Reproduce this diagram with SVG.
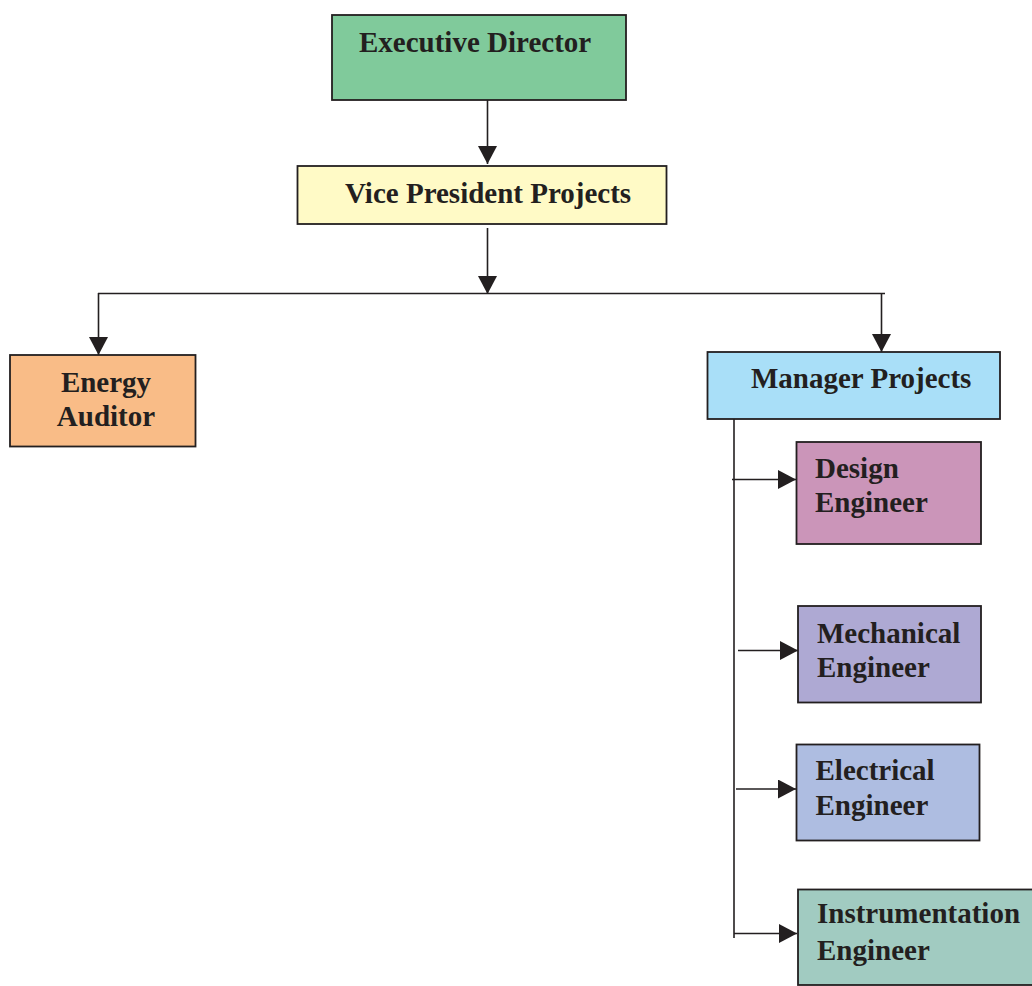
<svg xmlns="http://www.w3.org/2000/svg" width="1032" height="986" viewBox="0 0 1032 986">
<style>
.box{stroke:#231f20;stroke-width:1.8}
.lbl{font-family:"Liberation Serif","Times New Roman",serif;font-weight:bold;font-size:29px;fill:#231f20}
.c{text-anchor:middle}
.conn{fill:none;stroke:#231f20;stroke-width:1.6}
</style>
<defs>
<marker id="arr" markerUnits="userSpaceOnUse" viewBox="0 0 18 19" refX="18" refY="9.5" markerWidth="18" markerHeight="19" orient="auto">
<path d="M0,0 L18,9.5 L0,19 z" fill="#231f20"/>
</marker>
</defs>
<rect width="1032" height="986" fill="#ffffff"/>
<g id="connectors">
<line class="conn" x1="487.5" y1="98" x2="487.5" y2="164" marker-end="url(#arr)"/>
<line class="conn" x1="487.5" y1="228" x2="487.5" y2="294" marker-end="url(#arr)"/>
<line class="conn" x1="98" y1="293.5" x2="885" y2="293.5"/>
<line class="conn" x1="98.5" y1="293" x2="98.5" y2="355" marker-end="url(#arr)"/>
<line class="conn" x1="881.5" y1="293" x2="881.5" y2="352" marker-end="url(#arr)"/>
<line class="conn" x1="734" y1="419" x2="734" y2="938"/>
<line class="conn" x1="732" y1="479.5" x2="796" y2="479.5" marker-end="url(#arr)"/>
<line class="conn" x1="738" y1="650.5" x2="798" y2="650.5" marker-end="url(#arr)"/>
<line class="conn" x1="736" y1="789" x2="796" y2="789" marker-end="url(#arr)"/>
<line class="conn" x1="734" y1="933.5" x2="797" y2="933.5" marker-end="url(#arr)"/>
</g>
<g id="executive-director">
<rect class="box" x="332" y="15" width="294" height="85" fill="#80ca9b"/>
<text class="lbl" x="359" y="52">Executive Director</text>
</g>
<g id="vice-president-projects">
<rect class="box" x="297.5" y="166" width="369" height="58" fill="#fffac6"/>
<text class="lbl" x="345" y="203">Vice President Projects</text>
</g>
<g id="energy-auditor">
<rect class="box" x="10" y="355" width="185.5" height="91.5" fill="#f9bc87"/>
<text class="lbl c" x="106" y="392">Energy</text>
<text class="lbl c" x="106" y="426">Auditor</text>
</g>
<g id="manager-projects">
<rect class="box" x="707.5" y="352" width="292.5" height="67" fill="#a9dff8"/>
<text class="lbl" x="751" y="388">Manager Projects</text>
</g>
<g id="design-engineer">
<rect class="box" x="796.5" y="442" width="184.5" height="102" fill="#cb95b9"/>
<text class="lbl" x="815" y="478">Design</text>
<text class="lbl" x="815" y="512">Engineer</text>
</g>
<g id="mechanical-engineer">
<rect class="box" x="798" y="606" width="183" height="96.5" fill="#aea9d3"/>
<text class="lbl" x="817" y="642.5">Mechanical</text>
<text class="lbl" x="817" y="677">Engineer</text>
</g>
<g id="electrical-engineer">
<rect class="box" x="796.5" y="744.5" width="183" height="96" fill="#aebde1"/>
<text class="lbl" x="815.5" y="780">Electrical</text>
<text class="lbl" x="815.5" y="815">Engineer</text>
</g>
<g id="instrumentation-engineer">
<rect class="box" x="798" y="889.5" width="240" height="95.5" fill="#a1cbc1"/>
<text class="lbl" x="817" y="923">Instrumentation</text>
<text class="lbl" x="817" y="960">Engineer</text>
</g>
</svg>
